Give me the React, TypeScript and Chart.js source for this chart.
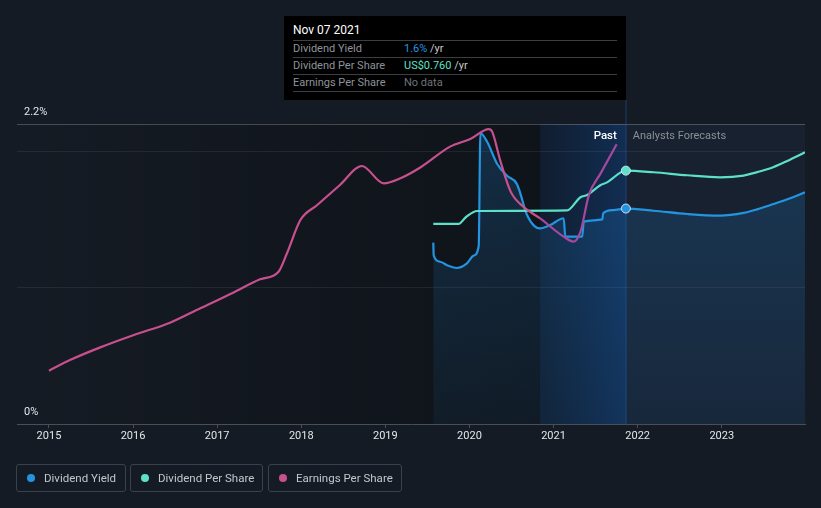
import React, { useEffect, useRef } from 'react';
import { Chart, registerables } from 'chart.js';

Chart.register(...registerables);

const FONT = 'Roboto, "Noto Sans", "DejaVu Sans", sans-serif';
const BG = '#151b24';
const BLUE = '#2394e0';
const TEAL = '#5ce1c8';
const PINK = '#c8508e';
const PURPLE = '#a6489c';

// ---- axis values ----
const xTickYears = [2015, 2016, 2017, 2018, 2019, 2020, 2021, 2022, 2023];
const yGridValues = [0, 1, 2, 2.2];
const yLabelValues = [0, 2.2];
const X_MIN = 2014.62;
const X_MAX = 2023.99;
const NOW = 2021.86; // Nov 07 2021
const PAST_START = 2020.84;

// ---- Dividend Yield (%) ----
const divYieldX = [2019.57, 2019.575, 2019.65, 2019.75, 2019.85, 2019.97, 2020.05, 2020.11, 2020.13, 2020.21, 2020.33, 2020.45, 2020.56, 2020.6, 2020.68, 2020.78, 2020.84, 2020.96, 2021.12, 2021.14, 2021.34, 2021.36, 2021.58, 2021.59, 2021.71, 2021.86, 2022.19, 2022.59, 2022.98, 2023.26, 2023.42, 2023.58, 2023.78, 2023.99];
const divYieldY = [1.33, 1.236, 1.19, 1.16, 1.144, 1.178, 1.235, 1.305, 2.132, 2.07, 1.907, 1.819, 1.765, 1.701, 1.54, 1.447, 1.435, 1.459, 1.509, 1.374, 1.374, 1.484, 1.501, 1.545, 1.569, 1.58, 1.564, 1.54, 1.528, 1.548, 1.574, 1.606, 1.648, 1.699];

// ---- Dividend Per Share (normalised to chart scale) ----
const dpsX = [2019.57, 2019.87, 2019.96, 2020.09, 2021.16, 2021.32, 2021.4, 2021.56, 2021.63, 2021.86, 2022.19, 2022.59, 2022.98, 2023.26, 2023.42, 2023.58, 2023.78, 2023.99];
const dpsY = [1.467, 1.467, 1.518, 1.562, 1.566, 1.663, 1.679, 1.753, 1.77, 1.858, 1.846, 1.824, 1.809, 1.822, 1.847, 1.875, 1.929, 1.992];

// ---- Earnings Per Share (normalised to chart scale) ----
const epsX = [2015.0, 2015.25, 2015.61, 2016.01, 2016.44, 2016.8, 2017.19, 2017.51, 2017.73, 2017.83, 2017.99, 2018.19, 2018.46, 2018.72, 2018.98, 2019.18, 2019.42, 2019.77, 2020.01, 2020.23, 2020.27, 2020.37, 2020.49, 2020.64, 2020.84, 2021.12, 2021.24, 2021.32, 2021.42, 2021.56, 2021.75];
const epsY = [0.391, 0.469, 0.562, 0.653, 0.743, 0.849, 0.963, 1.061, 1.117, 1.252, 1.496, 1.606, 1.753, 1.892, 1.765, 1.802, 1.883, 2.034, 2.09, 2.163, 2.144, 1.924, 1.704, 1.594, 1.508, 1.374, 1.337, 1.41, 1.679, 1.838, 2.051];

// ---- tooltip & legend text ----
const tooltipDate = 'Nov 07 2021';
const tooltipLabels = ['Dividend Yield', 'Dividend Per Share', 'Earnings Per Share'];
const tooltipValues = ['1.6%', 'US$0.760', 'No data'];
const tooltipUnits = [' /yr', ' /yr', ''];
const tooltipColors = [BLUE, TEAL, '#6f747b'];
const legendLabels = ['Dividend Yield', 'Dividend Per Share', 'Earnings Per Share'];
const legendColors = [BLUE, TEAL, PINK];
const legendLefts = [16, 130, 268];
const legendWidths = [110, 133, 134];

const toPoints = (xs: number[], ys: number[]) => xs.map((x, i) => ({ x, y: ys[i] }));

const backgroundPlugin = {
  id: 'bgPlugin',
  beforeDraw(chart: any) {
    const { ctx, chartArea, scales } = chart;
    const { left, right, top, bottom } = chartArea;
    const xNow = scales.x.getPixelForValue(NOW);
    const xPast = scales.x.getPixelForValue(PAST_START);
    ctx.save();
    ctx.fillStyle = BG;
    ctx.fillRect(0, 0, chart.width, chart.height);
    const g = ctx.createLinearGradient(left, 0, xNow, 0);
    g.addColorStop(0, 'rgba(0,0,0,0)');
    g.addColorStop(1, 'rgba(0,0,0,0.34)');
    ctx.fillStyle = g;
    ctx.fillRect(left, top, xNow - left, bottom - top);
    const h = ctx.createLinearGradient(xPast, 0, xNow, 0);
    h.addColorStop(0, 'rgba(25,100,200,0.12)');
    h.addColorStop(1, 'rgba(25,105,210,0.32)');
    ctx.fillStyle = h;
    ctx.fillRect(xPast, top, xNow - xPast, bottom - top);
    ctx.fillStyle = 'rgba(30,50,75,0.3)';
    ctx.fillRect(xNow, top, right - xNow, bottom - top);
    ctx.restore();
  },
  beforeDatasetsDraw(chart: any) {
    const { ctx, chartArea, scales } = chart;
    const xNow = scales.x.getPixelForValue(NOW);
    ctx.save();
    ctx.fillStyle = 'rgba(35,85,150,0.3)';
    ctx.fillRect(Math.round(xNow) - 1, 100, 2, chartArea.bottom - 100);
    ctx.restore();
  },
  afterDatasetsDraw(chart: any) {
    const { ctx, scales } = chart;
    const xNow = scales.x.getPixelForValue(NOW);
    ctx.save();
    ctx.textBaseline = 'middle';
    ctx.font = `500 11.5px ${FONT}`;
    ctx.fillStyle = '#ffffff';
    ctx.textAlign = 'right';
    ctx.fillText('Past', xNow - 9, 136);
    ctx.font = `11px ${FONT}`;
    ctx.fillStyle = '#8b9097';
    ctx.textAlign = 'left';
    ctx.fillText('Analysts Forecasts', xNow + 7, 136);
    ctx.restore();
  },
};

export default function App() {
  const canvasRef = useRef<HTMLCanvasElement | null>(null);

  useEffect(() => {
    const canvas = canvasRef.current;
    if (!canvas) return;
    const nowRadius = (c: any) => (c.raw && Math.abs(c.raw.x - NOW) < 1e-6 ? 4.5 : 0);
    const chart = new Chart(canvas, {
      type: 'line',
      data: {
        datasets: [
          {
            label: 'Earnings Per Share',
            data: toPoints(epsX, epsY),
            borderColor: PINK,
            borderWidth: 2.2,
            pointRadius: 0,
            cubicInterpolationMode: 'monotone',
            fill: false,
            segment: {
              borderColor: (c: any) => (c.p0.parsed.x >= PAST_START ? PURPLE : PINK),
            },
            order: 0,
          },
          {
            label: 'Dividend Yield',
            data: toPoints(divYieldX, divYieldY),
            borderColor: BLUE,
            borderWidth: 2.2,
            pointRadius: nowRadius,
            pointHoverRadius: nowRadius,
            pointBackgroundColor: BLUE,
            pointBorderColor: 'rgba(225,235,245,0.9)',
            pointBorderWidth: 1,
            cubicInterpolationMode: 'monotone',
            fill: 'origin',
            backgroundColor: (c: any) => {
              const ca = c.chart.chartArea;
              if (!ca) return 'rgba(35,150,240,0.12)';
              const gr = c.chart.ctx.createLinearGradient(0, ca.top, 0, ca.bottom);
              gr.addColorStop(0, 'rgba(35,150,240,0.2)');
              gr.addColorStop(1, 'rgba(35,150,240,0.06)');
              return gr;
            },
            order: 2,
          },
          {
            label: 'Dividend Per Share',
            data: toPoints(dpsX, dpsY),
            borderColor: TEAL,
            borderWidth: 2.2,
            pointRadius: nowRadius,
            pointHoverRadius: nowRadius,
            pointBackgroundColor: TEAL,
            pointBorderColor: 'rgba(225,235,245,0.9)',
            pointBorderWidth: 1,
            cubicInterpolationMode: 'monotone',
            fill: false,
            order: 1,
          },
        ],
      },
      options: {
        animation: false,
        responsive: false,
        devicePixelRatio: 1,
        events: [],
        layout: { padding: { left: 3, right: 16, top: 124, bottom: 62.8 } },
        plugins: {
          legend: { display: false },
          tooltip: { enabled: false },
        },
        scales: {
          x: {
            type: 'linear',
            min: X_MIN,
            max: X_MAX,
            afterBuildTicks: (s: any) => {
              s.ticks = xTickYears.map((v) => ({ value: v }));
            },
            ticks: {
              callback: (v: any) => String(v),
              color: '#e3e6ea',
              font: { family: FONT, size: 11 },
              padding: 2,
              maxRotation: 0,
              autoSkip: false,
            },
            grid: { drawOnChartArea: false, drawTicks: true, tickLength: 4, color: '#4a4f57' },
            border: { color: '#4a4f57', width: 1 },
          },
          y: {
            type: 'linear',
            min: 0,
            max: 2.2,
            afterBuildTicks: (s: any) => {
              s.ticks = yGridValues.map((v) => ({ value: v }));
            },
            ticks: {
              mirror: true,
              padding: 7,
              labelOffset: -11.5,
              color: '#e3e6ea',
              font: { family: FONT, size: 11 },
              autoSkip: false,
              callback: (v: any) => (yLabelValues.includes(v) ? `${v}%` : ''),
            },
            grid: {
              drawTicks: false,
              lineWidth: 1,
              color: (c: any) =>
                c.tick && c.tick.value === 2.2
                  ? 'rgba(255,255,255,0.22)'
                  : c.tick && c.tick.value === 0
                  ? 'rgba(0,0,0,0)'
                  : 'rgba(255,255,255,0.07)',
            },
            border: { display: false },
          },
        },
      },
      plugins: [backgroundPlugin],
    } as any);
    return () => chart.destroy();
  }, []);

  return (
    <div
      style={{
        position: 'fixed',
        left: 0,
        top: 0,
        width: 821,
        height: 508,
        background: BG,
        overflow: 'hidden',
        fontFamily: FONT,
      }}
    >
      <canvas ref={canvasRef} width={821} height={508} style={{ position: 'absolute', left: 0, top: 0, display: 'block' }} />
      <div
        style={{
          position: 'absolute',
          left: 284,
          top: 16,
          width: 342,
          height: 84,
          background: '#000000',
        }}
      >
        <div style={{ position: 'absolute', left: 9, top: 4, height: 21, lineHeight: '21px', fontSize: 12, color: '#ffffff' }}>
          {tooltipDate}
        </div>
        {tooltipLabels.map((lab, i) => (
          <div
            key={lab}
            style={{
              position: 'absolute',
              left: 9,
              top: 24 + i * 17,
              width: 324,
              height: 16,
              borderTop: '1px solid #3a3f46',
              borderBottom: i === tooltipLabels.length - 1 ? '1px solid #3a3f46' : 'none',
              fontSize: 11,
              lineHeight: '16px',
            }}
          >
            <span style={{ position: 'absolute', left: 0, color: '#8e9399' }}>{lab}</span>
            <span style={{ position: 'absolute', left: 111, whiteSpace: 'nowrap' }}>
              <span style={{ color: tooltipColors[i] }}>{tooltipValues[i]}</span>
              <span style={{ color: '#c5c9ce' }}>{tooltipUnits[i]}</span>
            </span>
          </div>
        ))}
      </div>
      {legendLabels.map((lab, i) => (
        <div
          key={lab}
          style={{
            position: 'absolute',
            left: legendLefts[i],
            top: 464,
            width: legendWidths[i],
            height: 28,
            boxSizing: 'border-box',
            border: '1px solid #3b414a',
            borderRadius: 3,
          }}
        >
          <span
            style={{
              position: 'absolute',
              left: 10,
              top: 9,
              width: 8,
              height: 8,
              borderRadius: 4,
              background: legendColors[i],
            }}
          />
          <span
            style={{
              position: 'absolute',
              left: 27,
              top: 0,
              lineHeight: '26px',
              fontSize: 11.5,
              color: '#c3c7cc',
              whiteSpace: 'nowrap',
            }}
          >
            {lab}
          </span>
        </div>
      ))}
    </div>
  );
}
